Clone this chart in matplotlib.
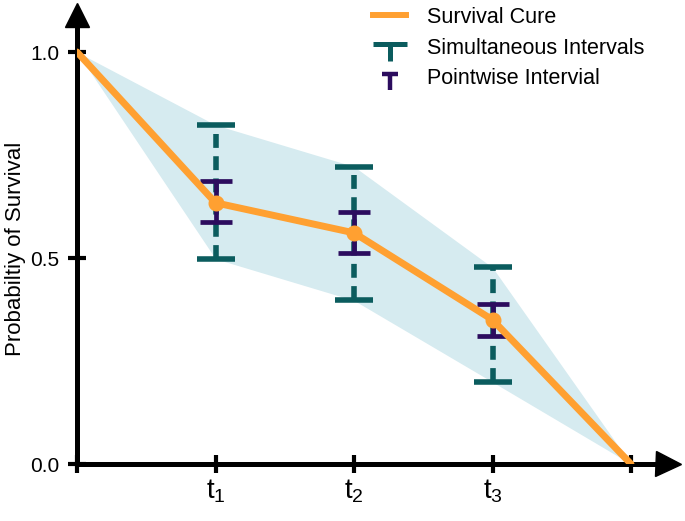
import numpy as np
import matplotlib
matplotlib.use("Agg")
import matplotlib.pyplot as plt
from matplotlib.lines import Line2D
from matplotlib.path import Path

plt.rcParams['font.family'] = ['Liberation Sans', 'DejaVu Sans']
plt.rcParams['mathtext.fontset'] = 'custom'
plt.rcParams['mathtext.rm'] = 'Liberation Sans'
plt.rcParams['mathtext.default'] = 'regular'

###### DATA ##########
times = [0, 1, 2, 3, 4]
survival = [1.0, 0.634, 0.561, 0.35, 0.0]
simul_lo = [1.0, 0.498, 0.397, 0.199, 0.0]
simul_hi = [1.0, 0.823, 0.722, 0.477, 0.0]
point_lo = [0.588, 0.512, 0.311]
point_hi = [0.688, 0.612, 0.388]
x_tick_labels = ['', r'$t_1$', r'$t_2$', r'$t_3$', '']
y_ticks = [0.0, 0.5, 1.0]
y_tick_labels = ['0.0', '0.5', '1.0']
#########################

ORANGE = '#FFA031'
TEAL = '#0B5C5E'
PURPLE = '#2C0C5E'
BAND = '#D6EBF0'

W, H = 685, 521
x0px, y0px = 77, 464      # origin in pixels
dx, dy = 138.5, 412       # pixels per unit
right_px, top_px = 668, 15

fig = plt.figure(figsize=(W / 100, H / 100), dpi=100)
ax = fig.add_axes([x0px / W, (H - y0px) / H, (right_px - x0px) / W, (y0px - top_px) / H])
ax.set_xlim(0, (right_px - x0px) / dx)
ax.set_ylim(0, (y0px - top_px) / dy)

for s in ['top', 'right']:
    ax.spines[s].set_visible(False)
for s in ['left', 'bottom']:
    ax.spines[s].set_linewidth(3.6)
    ax.spines[s].set_color('k')

# arrow heads
ax.plot(1, 0, '>', ms=18, color='k', transform=ax.get_yaxis_transform(), clip_on=False, zorder=6)
ax.plot(0, 1, '^', ms=17, color='k', transform=ax.get_xaxis_transform(), clip_on=False, zorder=6)

ax.set_xticks(times)
ax.set_xticklabels(x_tick_labels, fontsize=20)
ax.set_yticks(y_ticks)
ax.set_yticklabels(y_tick_labels, fontsize=15)
ax.tick_params(direction='inout', length=13, width=3, color='k')
ax.tick_params(axis='x', pad=3)
ax.tick_params(axis='y', pad=6)

fig.text(5 / W, 1 - 249 / H, 'Probabiltiy of Survival', fontsize=16,
         rotation=90, ha='left', va='center')

# confidence band
ax.fill_between(times, simul_lo, simul_hi, color=BAND, lw=0, zorder=1)

t_mid = np.array(times[1:4])
s_mid = np.array(survival[1:4])

# simultaneous intervals
sim_err = [s_mid - np.array(simul_lo[1:4]), np.array(simul_hi[1:4]) - s_mid]
eb = ax.errorbar(t_mid, s_mid, yerr=sim_err, fmt='none', ecolor=TEAL,
                 elinewidth=4, capsize=13.5, capthick=4, zorder=2)
eb[2][0].set_linestyle((0, (2.5, 1.5)))

# pointwise intervals
pt_err = [s_mid - np.array(point_lo), np.array(point_hi) - s_mid]
ax.errorbar(t_mid, s_mid, yerr=pt_err, fmt='none', ecolor=PURPLE,
            elinewidth=3.4, capsize=11.5, capthick=3.4, zorder=3)

# survival curve
ax.plot(times, survival, color=ORANGE, lw=5, solid_capstyle='round', zorder=4)
ax.plot(t_mid, s_mid, 'o', ms=10.5, color=ORANGE, zorder=5)

# legend
T_big = Path([(-1, 0.12), (1, 0.12), (0, 0.12), (0, -0.9)],
             [Path.MOVETO, Path.LINETO, Path.MOVETO, Path.LINETO])
T_small = Path([(-0.64, 0.25), (0.64, 0.25), (0, 0.25), (0, -1)],
               [Path.MOVETO, Path.LINETO, Path.MOVETO, Path.LINETO])
handles = [
    Line2D([], [], color=ORANGE, lw=4.3),
    Line2D([], [], ls='none', marker=T_big, ms=24, mec=TEAL, mfc='none', mew=3.6),
    Line2D([], [], ls='none', marker=T_small, ms=18, mec=PURPLE, mfc='none', mew=3.2),
]
labels = ['Survival Cure', 'Simultaneous Intervals', 'Pointwise Intervial']
ax.legend(handles, labels, loc='upper left', bbox_to_anchor=(373 / W, 1 - 7 / H),
          bbox_transform=fig.transFigure, frameon=False, fontsize=15.5,
          handlelength=1.55, handletextpad=0.95, labelspacing=0.45,
          borderpad=0, borderaxespad=0)

fig.savefig('out.png', dpi=100)
